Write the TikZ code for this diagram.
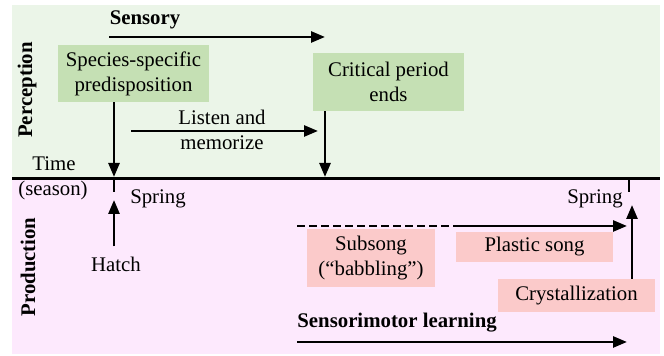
\documentclass[tikz,border=0pt]{standalone}
\usepackage{fontspec}
\setmainfont{Liberation Serif}
\usetikzlibrary{arrows.meta}
\definecolor{bggreen}{HTML}{EBF5E8}
\definecolor{bgpink}{HTML}{FDE9FD}
\definecolor{boxgreen}{HTML}{C5E0B4}
\definecolor{boxpink}{HTML}{FBCACA}
\begin{document}
\begin{tikzpicture}[x=0.5pt,y=-0.5pt,
  font=\fontsize{10.4}{12.5}\selectfont,
  arr/.style={-{Triangle[length=7pt,width=5.5pt]}, line width=1.3pt},
  tick/.style={line width=1.3pt},
  gbox/.style={fill=boxgreen, inner sep=0pt, align=center},
  pbox/.style={fill=boxpink, inner sep=0pt, align=center},
  lbl/.style={inner sep=1pt, align=center},
  side/.style={rotate=90, font=\fontsize{10.4}{12.5}\selectfont\bfseries, inner sep=0pt}]
\useasboundingbox (0,0) rectangle (664,356);
\fill[bggreen] (12,5) rectangle (660,179);
\fill[bgpink] (12,179) rectangle (660,354);
\draw[line width=1.5pt] (12,179) -- (660,179);

\node[side] (perc) at (27,90) {Perception};
\node[side] (prod) at (28,267) {Production};

% Perception
\node[lbl, font=\fontsize{10.4}{12.5}\selectfont\bfseries] (sensory) at (145,20) {Sensory};
\coordinate (s0) at (109,37);
\coordinate (s1) at (325,37);
\draw[arr] (s0) -- (s1);

\node[gbox, minimum width=75.5pt, minimum height=28.5pt] (spec) at (133.5,73.5) {Species-specific\\predisposition};
\node[gbox, minimum width=75.5pt, minimum height=29pt] (crit) at (388.5,82) {Critical period\\ends};

\coordinate (t1) at (114,177);
\coordinate (t2) at (325,177);
\draw[arr] (spec.south -| t1) -- (t1);
\draw[arr] (crit.south -| t2) -- (t2);

\node[lbl] (listen) at (222,130) {Listen and\\memorize};
\coordinate (l0) at (131,131);
\coordinate (l1) at (318,131);
\draw[arr] (l0) -- (l1);

\node[lbl] (time) at (54,164) {Time};
\node[lbl] (season) at (53,191) {(season)};

% Production
\coordinate (k1a) at (114,179);
\coordinate (k1b) at (114,192);
\draw[tick] (k1a) -- (k1b);
\node[lbl] (spring1) at (158,199) {Spring};
\node[lbl, inner sep=0pt] (hatch) at (116,264) {Hatch};
\coordinate (h1) at (114,200);
\draw[arr] (hatch.north -| h1) ++(0,-10) -- (h1);

\coordinate (k2a) at (629,179);
\coordinate (k2b) at (629,192);
\draw[tick] (k2a) -- (k2b);
\node[lbl] (spring2) at (595,199) {Spring};

\node[pbox, minimum width=64pt, minimum height=29pt] (sub) at (371,258) {Subsong\\(``babbling'')};
\node[pbox, minimum width=78.5pt, minimum height=15pt] (plastic) at (534.5,247) {Plastic song};
\node[pbox, minimum width=78.5pt, minimum height=16.5pt] (crys) at (576.5,295.5) {Crystallization};

\coordinate (d0) at (297,226);
\coordinate (d1) at (455,226);
\coordinate (d2) at (627,226);
\draw[line width=1.3pt, dash pattern=on 4pt off 2pt] (d0) -- (d1);
\draw[arr] (d1) -- (d2);

\coordinate (r1) at (632,205);
\draw[arr] (crys.north -| r1) -- (r1);

\node[lbl, anchor=west, inner sep=0pt, font=\fontsize{10.4}{12.5}\selectfont\bfseries] (smot) at (297,323) {Sensorimotor learning};
\coordinate (m0) at (297,342);
\coordinate (m1) at (627,342);
\draw[arr] (m0) -- (m1);
\end{tikzpicture}
\end{document}
